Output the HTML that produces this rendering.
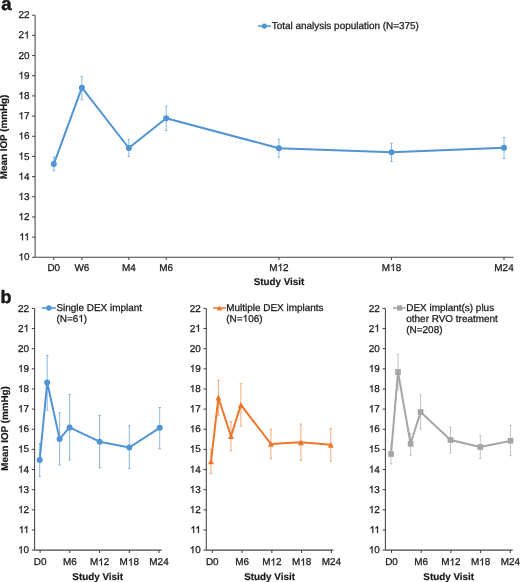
<!DOCTYPE html>
<html><head><meta charset="utf-8"><style>
html,body{margin:0;padding:0;background:#fff;}
body{width:520px;height:582px;overflow:hidden;}
svg{display:block;will-change:transform;}
text{font-family:"Liberation Sans",sans-serif;fill:#1a1a1a;text-rendering:geometricPrecision;stroke:#1a1a1a;stroke-width:0.26px;stroke-linejoin:round;}
text[font-weight=bold]{stroke-width:0.2px;}
text.pl{stroke-width:0.45px;}
.h{fill-opacity:0;stroke-opacity:0;}
path.one{fill:#1a1a1a;stroke:#1a1a1a;stroke-width:0.26px;stroke-linejoin:round;}
</style></head><body>
<svg width="520" height="582" viewBox="0 0 520 582">
<text class="pl" x="1.3" y="10.1" font-size="18.6" font-weight="bold">a</text>
<line x1="35.1" y1="15.2" x2="35.1" y2="257.3" stroke="#454545" stroke-width="1.05"/>
<line x1="35.1" y1="257.3" x2="513.5" y2="257.3" stroke="#454545" stroke-width="1.05"/>
<line x1="32.1" y1="15.20" x2="35.1" y2="15.20" stroke="#454545" stroke-width="1.05"/>
<text x="29.55" y="18.30" text-anchor="end" font-size="9.95">22</text>
<line x1="32.1" y1="35.38" x2="35.1" y2="35.38" stroke="#454545" stroke-width="1.05"/>
<text x="29.55" y="38.48" text-anchor="end" font-size="9.95">2<tspan class="h">1</tspan></text>
<line x1="32.1" y1="55.55" x2="35.1" y2="55.55" stroke="#454545" stroke-width="1.05"/>
<text x="29.55" y="58.65" text-anchor="end" font-size="9.95">20</text>
<line x1="32.1" y1="75.73" x2="35.1" y2="75.73" stroke="#454545" stroke-width="1.05"/>
<text x="29.55" y="78.83" text-anchor="end" font-size="9.95"><tspan class="h">1</tspan>9</text>
<line x1="32.1" y1="95.90" x2="35.1" y2="95.90" stroke="#454545" stroke-width="1.05"/>
<text x="29.55" y="99.00" text-anchor="end" font-size="9.95"><tspan class="h">1</tspan>8</text>
<line x1="32.1" y1="116.08" x2="35.1" y2="116.08" stroke="#454545" stroke-width="1.05"/>
<text x="29.55" y="119.17" text-anchor="end" font-size="9.95"><tspan class="h">1</tspan>7</text>
<line x1="32.1" y1="136.25" x2="35.1" y2="136.25" stroke="#454545" stroke-width="1.05"/>
<text x="29.55" y="139.35" text-anchor="end" font-size="9.95"><tspan class="h">1</tspan>6</text>
<line x1="32.1" y1="156.42" x2="35.1" y2="156.42" stroke="#454545" stroke-width="1.05"/>
<text x="29.55" y="159.52" text-anchor="end" font-size="9.95"><tspan class="h">1</tspan>5</text>
<line x1="32.1" y1="176.60" x2="35.1" y2="176.60" stroke="#454545" stroke-width="1.05"/>
<text x="29.55" y="179.70" text-anchor="end" font-size="9.95"><tspan class="h">1</tspan>4</text>
<line x1="32.1" y1="196.78" x2="35.1" y2="196.78" stroke="#454545" stroke-width="1.05"/>
<text x="29.55" y="199.88" text-anchor="end" font-size="9.95"><tspan class="h">1</tspan>3</text>
<line x1="32.1" y1="216.95" x2="35.1" y2="216.95" stroke="#454545" stroke-width="1.05"/>
<text x="29.55" y="220.05" text-anchor="end" font-size="9.95"><tspan class="h">1</tspan>2</text>
<line x1="32.1" y1="237.12" x2="35.1" y2="237.12" stroke="#454545" stroke-width="1.05"/>
<text x="29.55" y="240.22" text-anchor="end" font-size="9.95"><tspan class="h">1</tspan><tspan class="h">1</tspan></text>
<line x1="32.1" y1="257.30" x2="35.1" y2="257.30" stroke="#454545" stroke-width="1.05"/>
<text x="29.55" y="260.40" text-anchor="end" font-size="9.95"><tspan class="h">1</tspan>0</text>
<line x1="53.8" y1="257.3" x2="53.8" y2="260.1" stroke="#454545" stroke-width="1.05"/>
<text x="53.8" y="270.9" text-anchor="middle" font-size="9.95">D0</text>
<line x1="81.9" y1="257.3" x2="81.9" y2="260.1" stroke="#454545" stroke-width="1.05"/>
<text x="81.9" y="270.9" text-anchor="middle" font-size="9.95">W6</text>
<line x1="128.8" y1="257.3" x2="128.8" y2="260.1" stroke="#454545" stroke-width="1.05"/>
<text x="128.8" y="270.9" text-anchor="middle" font-size="9.95">M4</text>
<line x1="166.2" y1="257.3" x2="166.2" y2="260.1" stroke="#454545" stroke-width="1.05"/>
<text x="166.2" y="270.9" text-anchor="middle" font-size="9.95">M6</text>
<line x1="278.9" y1="257.3" x2="278.9" y2="260.1" stroke="#454545" stroke-width="1.05"/>
<text x="278.9" y="270.9" text-anchor="middle" font-size="9.95">M<tspan class="h">1</tspan>2</text>
<line x1="391.5" y1="257.3" x2="391.5" y2="260.1" stroke="#454545" stroke-width="1.05"/>
<text x="391.5" y="270.9" text-anchor="middle" font-size="9.95">M<tspan class="h">1</tspan>8</text>
<line x1="504.0" y1="257.3" x2="504.0" y2="260.1" stroke="#454545" stroke-width="1.05"/>
<text x="504.0" y="270.9" text-anchor="middle" font-size="9.95">M24</text>
<text x="279" y="284.6" text-anchor="middle" font-size="9.85" font-weight="bold">Study Visit</text>
<text transform="translate(7.4,136.9) rotate(-90)" text-anchor="middle" font-size="9.85" font-weight="bold">Mean IOP (mmHg)</text>
<line x1="53.8" y1="157.1" x2="53.8" y2="170.8" stroke="#7fb0de" stroke-width="0.9"/>
<line x1="52.5" y1="157.1" x2="55.099999999999994" y2="157.1" stroke="#7fb0de" stroke-width="0.9"/>
<line x1="52.5" y1="170.8" x2="55.099999999999994" y2="170.8" stroke="#7fb0de" stroke-width="0.9"/>
<line x1="81.9" y1="76.4" x2="81.9" y2="99.6" stroke="#7fb0de" stroke-width="0.9"/>
<line x1="80.60000000000001" y1="76.4" x2="83.2" y2="76.4" stroke="#7fb0de" stroke-width="0.9"/>
<line x1="80.60000000000001" y1="99.6" x2="83.2" y2="99.6" stroke="#7fb0de" stroke-width="0.9"/>
<line x1="128.8" y1="139.6" x2="128.8" y2="156.5" stroke="#7fb0de" stroke-width="0.9"/>
<line x1="127.50000000000001" y1="139.6" x2="130.10000000000002" y2="139.6" stroke="#7fb0de" stroke-width="0.9"/>
<line x1="127.50000000000001" y1="156.5" x2="130.10000000000002" y2="156.5" stroke="#7fb0de" stroke-width="0.9"/>
<line x1="166.2" y1="106.2" x2="166.2" y2="130.6" stroke="#7fb0de" stroke-width="0.9"/>
<line x1="164.89999999999998" y1="106.2" x2="167.5" y2="106.2" stroke="#7fb0de" stroke-width="0.9"/>
<line x1="164.89999999999998" y1="130.6" x2="167.5" y2="130.6" stroke="#7fb0de" stroke-width="0.9"/>
<line x1="278.9" y1="139.4" x2="278.9" y2="157.3" stroke="#7fb0de" stroke-width="0.9"/>
<line x1="277.59999999999997" y1="139.4" x2="280.2" y2="139.4" stroke="#7fb0de" stroke-width="0.9"/>
<line x1="277.59999999999997" y1="157.3" x2="280.2" y2="157.3" stroke="#7fb0de" stroke-width="0.9"/>
<line x1="391.5" y1="143.4" x2="391.5" y2="161.5" stroke="#7fb0de" stroke-width="0.9"/>
<line x1="390.2" y1="143.4" x2="392.8" y2="143.4" stroke="#7fb0de" stroke-width="0.9"/>
<line x1="390.2" y1="161.5" x2="392.8" y2="161.5" stroke="#7fb0de" stroke-width="0.9"/>
<line x1="504.0" y1="137.5" x2="504.0" y2="158.4" stroke="#7fb0de" stroke-width="0.9"/>
<line x1="502.7" y1="137.5" x2="505.3" y2="137.5" stroke="#7fb0de" stroke-width="0.9"/>
<line x1="502.7" y1="158.4" x2="505.3" y2="158.4" stroke="#7fb0de" stroke-width="0.9"/>
<path d="M53.8,164.1 L81.9,87.7 L128.8,148.0 L166.2,118.2 L278.9,148.2 L391.5,152.3 L504.0,147.8" fill="none" stroke="#5094d6" stroke-width="2.0" stroke-linejoin="round"/>
<circle cx="53.8" cy="164.1" r="3.0" fill="#5094d6"/>
<circle cx="81.9" cy="87.7" r="3.0" fill="#5094d6"/>
<circle cx="128.8" cy="148.0" r="3.0" fill="#5094d6"/>
<circle cx="166.2" cy="118.2" r="3.0" fill="#5094d6"/>
<circle cx="278.9" cy="148.2" r="3.0" fill="#5094d6"/>
<circle cx="391.5" cy="152.3" r="3.0" fill="#5094d6"/>
<circle cx="504.0" cy="147.8" r="3.0" fill="#5094d6"/>
<line x1="257.9" y1="26.1" x2="271" y2="26.1" stroke="#5094d6" stroke-width="1.5"/>
<circle cx="264.3" cy="26.1" r="2.6" fill="#5094d6"/>
<text x="271.7" y="29.3" font-size="9.95">Total analysis population (N=375)</text>
<text class="pl" x="0.4" y="302.9" font-size="18" font-weight="bold">b</text>
<line x1="34.6" y1="308.4" x2="34.6" y2="550.1" stroke="#454545" stroke-width="1.05"/>
<line x1="34.6" y1="550.1" x2="161.7" y2="550.1" stroke="#454545" stroke-width="1.05"/>
<line x1="31.8" y1="308.40" x2="34.6" y2="308.40" stroke="#454545" stroke-width="1.05"/>
<text x="29.05" y="311.50" text-anchor="end" font-size="9.95">22</text>
<line x1="31.8" y1="328.54" x2="34.6" y2="328.54" stroke="#454545" stroke-width="1.05"/>
<text x="29.05" y="331.64" text-anchor="end" font-size="9.95">2<tspan class="h">1</tspan></text>
<line x1="31.8" y1="348.68" x2="34.6" y2="348.68" stroke="#454545" stroke-width="1.05"/>
<text x="29.05" y="351.78" text-anchor="end" font-size="9.95">20</text>
<line x1="31.8" y1="368.82" x2="34.6" y2="368.82" stroke="#454545" stroke-width="1.05"/>
<text x="29.05" y="371.93" text-anchor="end" font-size="9.95"><tspan class="h">1</tspan>9</text>
<line x1="31.8" y1="388.97" x2="34.6" y2="388.97" stroke="#454545" stroke-width="1.05"/>
<text x="29.05" y="392.07" text-anchor="end" font-size="9.95"><tspan class="h">1</tspan>8</text>
<line x1="31.8" y1="409.11" x2="34.6" y2="409.11" stroke="#454545" stroke-width="1.05"/>
<text x="29.05" y="412.21" text-anchor="end" font-size="9.95"><tspan class="h">1</tspan>7</text>
<line x1="31.8" y1="429.25" x2="34.6" y2="429.25" stroke="#454545" stroke-width="1.05"/>
<text x="29.05" y="432.35" text-anchor="end" font-size="9.95"><tspan class="h">1</tspan>6</text>
<line x1="31.8" y1="449.39" x2="34.6" y2="449.39" stroke="#454545" stroke-width="1.05"/>
<text x="29.05" y="452.49" text-anchor="end" font-size="9.95"><tspan class="h">1</tspan>5</text>
<line x1="31.8" y1="469.53" x2="34.6" y2="469.53" stroke="#454545" stroke-width="1.05"/>
<text x="29.05" y="472.63" text-anchor="end" font-size="9.95"><tspan class="h">1</tspan>4</text>
<line x1="31.8" y1="489.68" x2="34.6" y2="489.68" stroke="#454545" stroke-width="1.05"/>
<text x="29.05" y="492.78" text-anchor="end" font-size="9.95"><tspan class="h">1</tspan>3</text>
<line x1="31.8" y1="509.82" x2="34.6" y2="509.82" stroke="#454545" stroke-width="1.05"/>
<text x="29.05" y="512.92" text-anchor="end" font-size="9.95"><tspan class="h">1</tspan>2</text>
<line x1="31.8" y1="529.96" x2="34.6" y2="529.96" stroke="#454545" stroke-width="1.05"/>
<text x="29.05" y="533.06" text-anchor="end" font-size="9.95"><tspan class="h">1</tspan><tspan class="h">1</tspan></text>
<line x1="31.8" y1="550.10" x2="34.6" y2="550.10" stroke="#454545" stroke-width="1.05"/>
<text x="29.05" y="553.20" text-anchor="end" font-size="9.95"><tspan class="h">1</tspan>0</text>
<line x1="40.1" y1="550.1" x2="40.1" y2="552.9" stroke="#454545" stroke-width="1.05"/>
<text x="40.1" y="565.4" text-anchor="middle" font-size="9.95">D0</text>
<line x1="69.83" y1="550.1" x2="69.83" y2="552.9" stroke="#454545" stroke-width="1.05"/>
<text x="69.83" y="565.4" text-anchor="middle" font-size="9.95">M6</text>
<line x1="99.55" y1="550.1" x2="99.55" y2="552.9" stroke="#454545" stroke-width="1.05"/>
<text x="99.55" y="565.4" text-anchor="middle" font-size="9.95">M<tspan class="h">1</tspan>2</text>
<line x1="129.28" y1="550.1" x2="129.28" y2="552.9" stroke="#454545" stroke-width="1.05"/>
<text x="129.28" y="565.4" text-anchor="middle" font-size="9.95">M<tspan class="h">1</tspan>8</text>
<line x1="159.0" y1="550.1" x2="159.0" y2="552.9" stroke="#454545" stroke-width="1.05"/>
<text x="159.0" y="565.4" text-anchor="middle" font-size="9.95">M24</text>
<text x="97.7" y="579.8" text-anchor="middle" font-size="9.85" font-weight="bold">Study Visit</text>
<line x1="39.7" y1="443.5" x2="39.7" y2="476.6" stroke="#7fb0de" stroke-width="0.9"/>
<line x1="38.400000000000006" y1="443.5" x2="41.0" y2="443.5" stroke="#7fb0de" stroke-width="0.9"/>
<line x1="38.400000000000006" y1="476.6" x2="41.0" y2="476.6" stroke="#7fb0de" stroke-width="0.9"/>
<line x1="47.2" y1="355.5" x2="47.2" y2="410.1" stroke="#7fb0de" stroke-width="0.9"/>
<line x1="45.900000000000006" y1="355.5" x2="48.5" y2="355.5" stroke="#7fb0de" stroke-width="0.9"/>
<line x1="45.900000000000006" y1="410.1" x2="48.5" y2="410.1" stroke="#7fb0de" stroke-width="0.9"/>
<line x1="59.6" y1="412.6" x2="59.6" y2="464.8" stroke="#7fb0de" stroke-width="0.9"/>
<line x1="58.300000000000004" y1="412.6" x2="60.9" y2="412.6" stroke="#7fb0de" stroke-width="0.9"/>
<line x1="58.300000000000004" y1="464.8" x2="60.9" y2="464.8" stroke="#7fb0de" stroke-width="0.9"/>
<line x1="69.6" y1="394.5" x2="69.6" y2="460.0" stroke="#7fb0de" stroke-width="0.9"/>
<line x1="68.3" y1="394.5" x2="70.89999999999999" y2="394.5" stroke="#7fb0de" stroke-width="0.9"/>
<line x1="68.3" y1="460.0" x2="70.89999999999999" y2="460.0" stroke="#7fb0de" stroke-width="0.9"/>
<line x1="99.6" y1="415.5" x2="99.6" y2="467.8" stroke="#7fb0de" stroke-width="0.9"/>
<line x1="98.3" y1="415.5" x2="100.89999999999999" y2="415.5" stroke="#7fb0de" stroke-width="0.9"/>
<line x1="98.3" y1="467.8" x2="100.89999999999999" y2="467.8" stroke="#7fb0de" stroke-width="0.9"/>
<line x1="129.3" y1="425.9" x2="129.3" y2="468.4" stroke="#7fb0de" stroke-width="0.9"/>
<line x1="128.0" y1="425.9" x2="130.60000000000002" y2="425.9" stroke="#7fb0de" stroke-width="0.9"/>
<line x1="128.0" y1="468.4" x2="130.60000000000002" y2="468.4" stroke="#7fb0de" stroke-width="0.9"/>
<line x1="159.7" y1="407.5" x2="159.7" y2="448.8" stroke="#7fb0de" stroke-width="0.9"/>
<line x1="158.39999999999998" y1="407.5" x2="161.0" y2="407.5" stroke="#7fb0de" stroke-width="0.9"/>
<line x1="158.39999999999998" y1="448.8" x2="161.0" y2="448.8" stroke="#7fb0de" stroke-width="0.9"/>
<path d="M39.7,459.9 L47.2,382.5 L59.6,438.9 L69.6,427.4 L99.6,441.7 L129.3,447.5 L159.7,427.8" fill="none" stroke="#5094d6" stroke-width="2.0" stroke-linejoin="round"/>
<circle cx="39.7" cy="459.9" r="3.0" fill="#5094d6"/>
<circle cx="47.2" cy="382.5" r="3.0" fill="#5094d6"/>
<circle cx="59.6" cy="438.9" r="3.0" fill="#5094d6"/>
<circle cx="69.6" cy="427.4" r="3.0" fill="#5094d6"/>
<circle cx="99.6" cy="441.7" r="3.0" fill="#5094d6"/>
<circle cx="129.3" cy="447.5" r="3.0" fill="#5094d6"/>
<circle cx="159.7" cy="427.8" r="3.0" fill="#5094d6"/>
<line x1="41.8" y1="308.0" x2="56.0" y2="308.0" stroke="#5094d6" stroke-width="1.5"/>
<circle cx="48.9" cy="308.0" r="2.7" fill="#5094d6"/>
<text x="56.4" y="311.10" font-size="9.95">Single DEX implant</text>
<text x="56.4" y="321.85" font-size="9.95">(N=6<tspan class="h">1</tspan>)</text>
<line x1="206.3" y1="308.4" x2="206.3" y2="550.1" stroke="#454545" stroke-width="1.05"/>
<line x1="206.3" y1="550.1" x2="333.4" y2="550.1" stroke="#454545" stroke-width="1.05"/>
<line x1="203.5" y1="308.40" x2="206.3" y2="308.40" stroke="#454545" stroke-width="1.05"/>
<text x="200.75" y="311.50" text-anchor="end" font-size="9.95">22</text>
<line x1="203.5" y1="328.54" x2="206.3" y2="328.54" stroke="#454545" stroke-width="1.05"/>
<text x="200.75" y="331.64" text-anchor="end" font-size="9.95">2<tspan class="h">1</tspan></text>
<line x1="203.5" y1="348.68" x2="206.3" y2="348.68" stroke="#454545" stroke-width="1.05"/>
<text x="200.75" y="351.78" text-anchor="end" font-size="9.95">20</text>
<line x1="203.5" y1="368.82" x2="206.3" y2="368.82" stroke="#454545" stroke-width="1.05"/>
<text x="200.75" y="371.93" text-anchor="end" font-size="9.95"><tspan class="h">1</tspan>9</text>
<line x1="203.5" y1="388.97" x2="206.3" y2="388.97" stroke="#454545" stroke-width="1.05"/>
<text x="200.75" y="392.07" text-anchor="end" font-size="9.95"><tspan class="h">1</tspan>8</text>
<line x1="203.5" y1="409.11" x2="206.3" y2="409.11" stroke="#454545" stroke-width="1.05"/>
<text x="200.75" y="412.21" text-anchor="end" font-size="9.95"><tspan class="h">1</tspan>7</text>
<line x1="203.5" y1="429.25" x2="206.3" y2="429.25" stroke="#454545" stroke-width="1.05"/>
<text x="200.75" y="432.35" text-anchor="end" font-size="9.95"><tspan class="h">1</tspan>6</text>
<line x1="203.5" y1="449.39" x2="206.3" y2="449.39" stroke="#454545" stroke-width="1.05"/>
<text x="200.75" y="452.49" text-anchor="end" font-size="9.95"><tspan class="h">1</tspan>5</text>
<line x1="203.5" y1="469.53" x2="206.3" y2="469.53" stroke="#454545" stroke-width="1.05"/>
<text x="200.75" y="472.63" text-anchor="end" font-size="9.95"><tspan class="h">1</tspan>4</text>
<line x1="203.5" y1="489.68" x2="206.3" y2="489.68" stroke="#454545" stroke-width="1.05"/>
<text x="200.75" y="492.78" text-anchor="end" font-size="9.95"><tspan class="h">1</tspan>3</text>
<line x1="203.5" y1="509.82" x2="206.3" y2="509.82" stroke="#454545" stroke-width="1.05"/>
<text x="200.75" y="512.92" text-anchor="end" font-size="9.95"><tspan class="h">1</tspan>2</text>
<line x1="203.5" y1="529.96" x2="206.3" y2="529.96" stroke="#454545" stroke-width="1.05"/>
<text x="200.75" y="533.06" text-anchor="end" font-size="9.95"><tspan class="h">1</tspan><tspan class="h">1</tspan></text>
<line x1="203.5" y1="550.10" x2="206.3" y2="550.10" stroke="#454545" stroke-width="1.05"/>
<text x="200.75" y="553.20" text-anchor="end" font-size="9.95"><tspan class="h">1</tspan>0</text>
<line x1="212.3" y1="550.1" x2="212.3" y2="552.9" stroke="#454545" stroke-width="1.05"/>
<text x="212.3" y="565.4" text-anchor="middle" font-size="9.95">D0</text>
<line x1="242.07" y1="550.1" x2="242.07" y2="552.9" stroke="#454545" stroke-width="1.05"/>
<text x="242.07" y="565.4" text-anchor="middle" font-size="9.95">M6</text>
<line x1="271.85" y1="550.1" x2="271.85" y2="552.9" stroke="#454545" stroke-width="1.05"/>
<text x="271.85" y="565.4" text-anchor="middle" font-size="9.95">M<tspan class="h">1</tspan>2</text>
<line x1="301.62" y1="550.1" x2="301.62" y2="552.9" stroke="#454545" stroke-width="1.05"/>
<text x="301.62" y="565.4" text-anchor="middle" font-size="9.95">M<tspan class="h">1</tspan>8</text>
<line x1="331.4" y1="550.1" x2="331.4" y2="552.9" stroke="#454545" stroke-width="1.05"/>
<text x="331.4" y="565.4" text-anchor="middle" font-size="9.95">M24</text>
<text x="269.6" y="579.8" text-anchor="middle" font-size="9.85" font-weight="bold">Study Visit</text>
<line x1="211.0" y1="449.3" x2="211.0" y2="473.6" stroke="#f2a06a" stroke-width="0.9"/>
<line x1="209.7" y1="449.3" x2="212.3" y2="449.3" stroke="#f2a06a" stroke-width="0.9"/>
<line x1="209.7" y1="473.6" x2="212.3" y2="473.6" stroke="#f2a06a" stroke-width="0.9"/>
<line x1="218.4" y1="380.3" x2="218.4" y2="415.1" stroke="#f2a06a" stroke-width="0.9"/>
<line x1="217.1" y1="380.3" x2="219.70000000000002" y2="380.3" stroke="#f2a06a" stroke-width="0.9"/>
<line x1="217.1" y1="415.1" x2="219.70000000000002" y2="415.1" stroke="#f2a06a" stroke-width="0.9"/>
<line x1="231.0" y1="421.6" x2="231.0" y2="450.8" stroke="#f2a06a" stroke-width="0.9"/>
<line x1="229.7" y1="421.6" x2="232.3" y2="421.6" stroke="#f2a06a" stroke-width="0.9"/>
<line x1="229.7" y1="450.8" x2="232.3" y2="450.8" stroke="#f2a06a" stroke-width="0.9"/>
<line x1="240.9" y1="383.7" x2="240.9" y2="426.0" stroke="#f2a06a" stroke-width="0.9"/>
<line x1="239.6" y1="383.7" x2="242.20000000000002" y2="383.7" stroke="#f2a06a" stroke-width="0.9"/>
<line x1="239.6" y1="426.0" x2="242.20000000000002" y2="426.0" stroke="#f2a06a" stroke-width="0.9"/>
<line x1="270.9" y1="429.5" x2="270.9" y2="458.5" stroke="#f2a06a" stroke-width="0.9"/>
<line x1="269.59999999999997" y1="429.5" x2="272.2" y2="429.5" stroke="#f2a06a" stroke-width="0.9"/>
<line x1="269.59999999999997" y1="458.5" x2="272.2" y2="458.5" stroke="#f2a06a" stroke-width="0.9"/>
<line x1="300.9" y1="424.0" x2="300.9" y2="460.3" stroke="#f2a06a" stroke-width="0.9"/>
<line x1="299.59999999999997" y1="424.0" x2="302.2" y2="424.0" stroke="#f2a06a" stroke-width="0.9"/>
<line x1="299.59999999999997" y1="460.3" x2="302.2" y2="460.3" stroke="#f2a06a" stroke-width="0.9"/>
<line x1="330.8" y1="428.5" x2="330.8" y2="461.1" stroke="#f2a06a" stroke-width="0.9"/>
<line x1="329.5" y1="428.5" x2="332.1" y2="428.5" stroke="#f2a06a" stroke-width="0.9"/>
<line x1="329.5" y1="461.1" x2="332.1" y2="461.1" stroke="#f2a06a" stroke-width="0.9"/>
<path d="M211.0,461.5 L218.4,397.7 L231.0,436.2 L240.9,404.9 L270.9,444.0 L300.9,442.3 L330.8,444.8" fill="none" stroke="#EC7628" stroke-width="2.0" stroke-linejoin="round"/>
<path d="M211.0,458.65 L214.0,464.35 L208.0,464.35 Z" fill="#EC7628"/>
<path d="M218.4,394.84999999999997 L221.4,400.55 L215.4,400.55 Z" fill="#EC7628"/>
<path d="M231.0,433.34999999999997 L234.0,439.05 L228.0,439.05 Z" fill="#EC7628"/>
<path d="M240.9,402.04999999999995 L243.9,407.75 L237.9,407.75 Z" fill="#EC7628"/>
<path d="M270.9,441.15 L273.9,446.85 L267.9,446.85 Z" fill="#EC7628"/>
<path d="M300.9,439.45 L303.9,445.15000000000003 L297.9,445.15000000000003 Z" fill="#EC7628"/>
<path d="M330.8,441.95 L333.8,447.65000000000003 L327.8,447.65000000000003 Z" fill="#EC7628"/>
<line x1="213.2" y1="308.0" x2="225.9" y2="308.0" stroke="#EC7628" stroke-width="1.5"/>
<path d="M219.6,305.435 L222.29999999999998,310.565 L216.9,310.565 Z" fill="#EC7628"/>
<text x="226.3" y="311.10" font-size="9.95">Multiple DEX implants</text>
<text x="226.3" y="321.85" font-size="9.95">(N=<tspan class="h">1</tspan>06)</text>
<line x1="385.4" y1="308.4" x2="385.4" y2="550.1" stroke="#454545" stroke-width="1.05"/>
<line x1="385.4" y1="550.1" x2="512.7" y2="550.1" stroke="#454545" stroke-width="1.05"/>
<line x1="382.59999999999997" y1="308.40" x2="385.4" y2="308.40" stroke="#454545" stroke-width="1.05"/>
<text x="379.85" y="311.50" text-anchor="end" font-size="9.95">22</text>
<line x1="382.59999999999997" y1="328.54" x2="385.4" y2="328.54" stroke="#454545" stroke-width="1.05"/>
<text x="379.85" y="331.64" text-anchor="end" font-size="9.95">2<tspan class="h">1</tspan></text>
<line x1="382.59999999999997" y1="348.68" x2="385.4" y2="348.68" stroke="#454545" stroke-width="1.05"/>
<text x="379.85" y="351.78" text-anchor="end" font-size="9.95">20</text>
<line x1="382.59999999999997" y1="368.82" x2="385.4" y2="368.82" stroke="#454545" stroke-width="1.05"/>
<text x="379.85" y="371.93" text-anchor="end" font-size="9.95"><tspan class="h">1</tspan>9</text>
<line x1="382.59999999999997" y1="388.97" x2="385.4" y2="388.97" stroke="#454545" stroke-width="1.05"/>
<text x="379.85" y="392.07" text-anchor="end" font-size="9.95"><tspan class="h">1</tspan>8</text>
<line x1="382.59999999999997" y1="409.11" x2="385.4" y2="409.11" stroke="#454545" stroke-width="1.05"/>
<text x="379.85" y="412.21" text-anchor="end" font-size="9.95"><tspan class="h">1</tspan>7</text>
<line x1="382.59999999999997" y1="429.25" x2="385.4" y2="429.25" stroke="#454545" stroke-width="1.05"/>
<text x="379.85" y="432.35" text-anchor="end" font-size="9.95"><tspan class="h">1</tspan>6</text>
<line x1="382.59999999999997" y1="449.39" x2="385.4" y2="449.39" stroke="#454545" stroke-width="1.05"/>
<text x="379.85" y="452.49" text-anchor="end" font-size="9.95"><tspan class="h">1</tspan>5</text>
<line x1="382.59999999999997" y1="469.53" x2="385.4" y2="469.53" stroke="#454545" stroke-width="1.05"/>
<text x="379.85" y="472.63" text-anchor="end" font-size="9.95"><tspan class="h">1</tspan>4</text>
<line x1="382.59999999999997" y1="489.68" x2="385.4" y2="489.68" stroke="#454545" stroke-width="1.05"/>
<text x="379.85" y="492.78" text-anchor="end" font-size="9.95"><tspan class="h">1</tspan>3</text>
<line x1="382.59999999999997" y1="509.82" x2="385.4" y2="509.82" stroke="#454545" stroke-width="1.05"/>
<text x="379.85" y="512.92" text-anchor="end" font-size="9.95"><tspan class="h">1</tspan>2</text>
<line x1="382.59999999999997" y1="529.96" x2="385.4" y2="529.96" stroke="#454545" stroke-width="1.05"/>
<text x="379.85" y="533.06" text-anchor="end" font-size="9.95"><tspan class="h">1</tspan><tspan class="h">1</tspan></text>
<line x1="382.59999999999997" y1="550.10" x2="385.4" y2="550.10" stroke="#454545" stroke-width="1.05"/>
<text x="379.85" y="553.20" text-anchor="end" font-size="9.95"><tspan class="h">1</tspan>0</text>
<line x1="391.5" y1="550.1" x2="391.5" y2="552.9" stroke="#454545" stroke-width="1.05"/>
<text x="391.5" y="565.4" text-anchor="middle" font-size="9.95">D0</text>
<line x1="421.2" y1="550.1" x2="421.2" y2="552.9" stroke="#454545" stroke-width="1.05"/>
<text x="421.2" y="565.4" text-anchor="middle" font-size="9.95">M6</text>
<line x1="450.9" y1="550.1" x2="450.9" y2="552.9" stroke="#454545" stroke-width="1.05"/>
<text x="450.9" y="565.4" text-anchor="middle" font-size="9.95">M<tspan class="h">1</tspan>2</text>
<line x1="480.6" y1="550.1" x2="480.6" y2="552.9" stroke="#454545" stroke-width="1.05"/>
<text x="480.6" y="565.4" text-anchor="middle" font-size="9.95">M<tspan class="h">1</tspan>8</text>
<line x1="510.3" y1="550.1" x2="510.3" y2="552.9" stroke="#454545" stroke-width="1.05"/>
<text x="510.3" y="565.4" text-anchor="middle" font-size="9.95">M24</text>
<text x="448.7" y="579.8" text-anchor="middle" font-size="9.85" font-weight="bold">Study Visit</text>
<line x1="391.0" y1="444.3" x2="391.0" y2="463.9" stroke="#bdbdbd" stroke-width="0.9"/>
<line x1="389.7" y1="444.3" x2="392.3" y2="444.3" stroke="#bdbdbd" stroke-width="0.9"/>
<line x1="389.7" y1="463.9" x2="392.3" y2="463.9" stroke="#bdbdbd" stroke-width="0.9"/>
<line x1="398.0" y1="354.5" x2="398.0" y2="389.8" stroke="#bdbdbd" stroke-width="0.9"/>
<line x1="396.7" y1="354.5" x2="399.3" y2="354.5" stroke="#bdbdbd" stroke-width="0.9"/>
<line x1="396.7" y1="389.8" x2="399.3" y2="389.8" stroke="#bdbdbd" stroke-width="0.9"/>
<line x1="410.6" y1="433.3" x2="410.6" y2="455.3" stroke="#bdbdbd" stroke-width="0.9"/>
<line x1="409.3" y1="433.3" x2="411.90000000000003" y2="433.3" stroke="#bdbdbd" stroke-width="0.9"/>
<line x1="409.3" y1="455.3" x2="411.90000000000003" y2="455.3" stroke="#bdbdbd" stroke-width="0.9"/>
<line x1="420.6" y1="394.8" x2="420.6" y2="429.2" stroke="#bdbdbd" stroke-width="0.9"/>
<line x1="419.3" y1="394.8" x2="421.90000000000003" y2="394.8" stroke="#bdbdbd" stroke-width="0.9"/>
<line x1="419.3" y1="429.2" x2="421.90000000000003" y2="429.2" stroke="#bdbdbd" stroke-width="0.9"/>
<line x1="450.5" y1="427.2" x2="450.5" y2="453.1" stroke="#bdbdbd" stroke-width="0.9"/>
<line x1="449.2" y1="427.2" x2="451.8" y2="427.2" stroke="#bdbdbd" stroke-width="0.9"/>
<line x1="449.2" y1="453.1" x2="451.8" y2="453.1" stroke="#bdbdbd" stroke-width="0.9"/>
<line x1="480.3" y1="435.4" x2="480.3" y2="458.5" stroke="#bdbdbd" stroke-width="0.9"/>
<line x1="479.0" y1="435.4" x2="481.6" y2="435.4" stroke="#bdbdbd" stroke-width="0.9"/>
<line x1="479.0" y1="458.5" x2="481.6" y2="458.5" stroke="#bdbdbd" stroke-width="0.9"/>
<line x1="510.5" y1="425.4" x2="510.5" y2="455.7" stroke="#bdbdbd" stroke-width="0.9"/>
<line x1="509.2" y1="425.4" x2="511.8" y2="425.4" stroke="#bdbdbd" stroke-width="0.9"/>
<line x1="509.2" y1="455.7" x2="511.8" y2="455.7" stroke="#bdbdbd" stroke-width="0.9"/>
<path d="M391.0,454.0 L398.0,372.0 L410.6,443.8 L420.6,412.0 L450.5,440.0 L480.3,447.0 L510.5,440.8" fill="none" stroke="#A5A5A5" stroke-width="2.0" stroke-linejoin="round"/>
<rect x="388.15" y="451.15" width="5.7" height="5.7" fill="#A5A5A5"/>
<rect x="395.15" y="369.15" width="5.7" height="5.7" fill="#A5A5A5"/>
<rect x="407.75" y="440.95" width="5.7" height="5.7" fill="#A5A5A5"/>
<rect x="417.75" y="409.15" width="5.7" height="5.7" fill="#A5A5A5"/>
<rect x="447.65" y="437.15" width="5.7" height="5.7" fill="#A5A5A5"/>
<rect x="477.45" y="444.15" width="5.7" height="5.7" fill="#A5A5A5"/>
<rect x="507.65" y="437.95" width="5.7" height="5.7" fill="#A5A5A5"/>
<line x1="392.9" y1="308.0" x2="405.9" y2="308.0" stroke="#A5A5A5" stroke-width="1.5"/>
<rect x="396.95000000000005" y="305.35" width="5.3" height="5.3" fill="#A5A5A5"/>
<text x="406.29999999999995" y="311.10" font-size="9.95">DEX implant(s) plus</text>
<text x="406.29999999999995" y="321.85" font-size="9.95">other RVO treatment</text>
<text x="406.29999999999995" y="332.60" font-size="9.95">(N=208)</text>
<text transform="translate(7.8,428.4) rotate(-90)" text-anchor="middle" font-size="9.85" font-weight="bold">Mean IOP (mmHg)</text>
<path class="one" d="M27.73,38.48 L26.85,38.48 L26.85,32.91 Q26.54,33.21 26.28,33.36 Q26.02,33.51 25.76,33.66 Q25.51,33.81 25.10,33.96 L25.10,33.12 Q25.84,32.77 26.11,32.53 Q26.38,32.28 26.66,32.04 Q26.93,31.79 27.16,31.33 L27.73,31.33 Z"/>
<path class="one" d="M22.19,78.83 L21.32,78.83 L21.32,73.26 Q21.00,73.56 20.75,73.71 Q20.49,73.86 20.23,74.01 Q19.97,74.16 19.57,74.31 L19.57,73.47 Q20.30,73.12 20.58,72.88 Q20.85,72.63 21.13,72.39 Q21.40,72.14 21.63,71.68 L22.19,71.68 Z"/>
<path class="one" d="M22.19,99.00 L21.32,99.00 L21.32,93.43 Q21.00,93.73 20.75,93.88 Q20.49,94.03 20.23,94.18 Q19.97,94.33 19.57,94.48 L19.57,93.64 Q20.30,93.29 20.58,93.05 Q20.85,92.80 21.13,92.56 Q21.40,92.31 21.63,91.85 L22.19,91.85 Z"/>
<path class="one" d="M22.19,119.17 L21.32,119.17 L21.32,113.60 Q21.00,113.90 20.75,114.05 Q20.49,114.20 20.23,114.35 Q19.97,114.50 19.57,114.65 L19.57,113.81 Q20.30,113.46 20.58,113.22 Q20.85,112.97 21.13,112.73 Q21.40,112.48 21.63,112.02 L22.19,112.02 Z"/>
<path class="one" d="M22.19,139.35 L21.32,139.35 L21.32,133.78 Q21.00,134.08 20.75,134.23 Q20.49,134.38 20.23,134.53 Q19.97,134.68 19.57,134.83 L19.57,133.99 Q20.30,133.64 20.58,133.40 Q20.85,133.15 21.13,132.91 Q21.40,132.66 21.63,132.20 L22.19,132.20 Z"/>
<path class="one" d="M22.19,159.52 L21.32,159.52 L21.32,153.95 Q21.00,154.25 20.75,154.40 Q20.49,154.55 20.23,154.70 Q19.97,154.85 19.57,155.00 L19.57,154.16 Q20.30,153.81 20.58,153.57 Q20.85,153.32 21.13,153.08 Q21.40,152.83 21.63,152.37 L22.19,152.37 Z"/>
<path class="one" d="M22.19,179.70 L21.32,179.70 L21.32,174.13 Q21.00,174.43 20.75,174.58 Q20.49,174.73 20.23,174.88 Q19.97,175.03 19.57,175.18 L19.57,174.34 Q20.30,173.99 20.58,173.75 Q20.85,173.50 21.13,173.26 Q21.40,173.01 21.63,172.55 L22.19,172.55 Z"/>
<path class="one" d="M22.19,199.88 L21.32,199.88 L21.32,194.31 Q21.00,194.61 20.75,194.76 Q20.49,194.91 20.23,195.06 Q19.97,195.21 19.57,195.36 L19.57,194.52 Q20.30,194.17 20.58,193.93 Q20.85,193.68 21.13,193.44 Q21.40,193.19 21.63,192.73 L22.19,192.73 Z"/>
<path class="one" d="M22.19,220.05 L21.32,220.05 L21.32,214.48 Q21.00,214.78 20.75,214.93 Q20.49,215.08 20.23,215.23 Q19.97,215.38 19.57,215.53 L19.57,214.69 Q20.30,214.34 20.58,214.10 Q20.85,213.85 21.13,213.61 Q21.40,213.36 21.63,212.90 L22.19,212.90 Z"/>
<path class="one" d="M22.93,240.22 L22.05,240.22 L22.05,234.65 Q21.74,234.95 21.48,235.10 Q21.22,235.25 20.97,235.40 Q20.71,235.55 20.31,235.70 L20.31,234.86 Q21.04,234.51 21.31,234.27 Q21.59,234.02 21.86,233.78 Q22.14,233.53 22.37,233.07 L22.93,233.07 Z"/>
<path class="one" d="M27.73,240.22 L26.85,240.22 L26.85,234.65 Q26.54,234.95 26.28,235.10 Q26.02,235.25 25.76,235.40 Q25.51,235.55 25.10,235.70 L25.10,234.86 Q25.84,234.51 26.11,234.27 Q26.38,234.02 26.66,233.78 Q26.93,233.53 27.16,233.07 L27.73,233.07 Z"/>
<path class="one" d="M22.19,260.40 L21.32,260.40 L21.32,254.83 Q21.00,255.13 20.75,255.28 Q20.49,255.43 20.23,255.58 Q19.97,255.73 19.57,255.88 L19.57,255.04 Q20.30,254.69 20.58,254.45 Q20.85,254.20 21.13,253.96 Q21.40,253.71 21.63,253.25 L22.19,253.25 Z"/>
<path class="one" d="M281.22,270.90 L280.34,270.90 L280.34,265.33 Q280.03,265.63 279.77,265.78 Q279.51,265.93 279.25,266.08 Q279.00,266.23 278.59,266.38 L278.59,265.54 Q279.33,265.19 279.60,264.95 Q279.88,264.70 280.15,264.46 Q280.42,264.21 280.65,263.75 L281.22,263.75 Z"/>
<path class="one" d="M393.82,270.90 L392.94,270.90 L392.94,265.33 Q392.63,265.63 392.37,265.78 Q392.11,265.93 391.85,266.08 Q391.60,266.23 391.19,266.38 L391.19,265.54 Q391.93,265.19 392.20,264.95 Q392.48,264.70 392.75,264.46 Q393.02,264.21 393.25,263.75 L393.82,263.75 Z"/>
<path class="one" d="M27.23,331.64 L26.35,331.64 L26.35,326.07 Q26.04,326.37 25.78,326.52 Q25.52,326.67 25.26,326.82 Q25.01,326.97 24.60,327.12 L24.60,326.28 Q25.34,325.93 25.61,325.69 Q25.88,325.44 26.16,325.20 Q26.43,324.95 26.66,324.49 L27.23,324.49 Z"/>
<path class="one" d="M21.69,371.93 L20.82,371.93 L20.82,366.36 Q20.50,366.66 20.25,366.81 Q19.99,366.96 19.73,367.11 Q19.47,367.26 19.07,367.41 L19.07,366.57 Q19.80,366.22 20.08,365.98 Q20.35,365.73 20.63,365.49 Q20.90,365.24 21.13,364.78 L21.69,364.78 Z"/>
<path class="one" d="M21.69,392.07 L20.82,392.07 L20.82,386.50 Q20.50,386.80 20.25,386.95 Q19.99,387.10 19.73,387.25 Q19.47,387.40 19.07,387.55 L19.07,386.71 Q19.80,386.36 20.08,386.12 Q20.35,385.87 20.63,385.63 Q20.90,385.38 21.13,384.92 L21.69,384.92 Z"/>
<path class="one" d="M21.69,412.21 L20.82,412.21 L20.82,406.64 Q20.50,406.94 20.25,407.09 Q19.99,407.24 19.73,407.39 Q19.47,407.54 19.07,407.69 L19.07,406.85 Q19.80,406.50 20.08,406.26 Q20.35,406.01 20.63,405.77 Q20.90,405.52 21.13,405.06 L21.69,405.06 Z"/>
<path class="one" d="M21.69,432.35 L20.82,432.35 L20.82,426.78 Q20.50,427.08 20.25,427.23 Q19.99,427.38 19.73,427.53 Q19.47,427.68 19.07,427.83 L19.07,426.99 Q19.80,426.64 20.08,426.40 Q20.35,426.15 20.63,425.91 Q20.90,425.66 21.13,425.20 L21.69,425.20 Z"/>
<path class="one" d="M21.69,452.49 L20.82,452.49 L20.82,446.92 Q20.50,447.22 20.25,447.37 Q19.99,447.52 19.73,447.67 Q19.47,447.82 19.07,447.97 L19.07,447.13 Q19.80,446.78 20.08,446.54 Q20.35,446.29 20.63,446.05 Q20.90,445.80 21.13,445.34 L21.69,445.34 Z"/>
<path class="one" d="M21.69,472.63 L20.82,472.63 L20.82,467.06 Q20.50,467.36 20.25,467.51 Q19.99,467.66 19.73,467.81 Q19.47,467.96 19.07,468.11 L19.07,467.27 Q19.80,466.92 20.08,466.68 Q20.35,466.43 20.63,466.19 Q20.90,465.94 21.13,465.48 L21.69,465.48 Z"/>
<path class="one" d="M21.69,492.78 L20.82,492.78 L20.82,487.21 Q20.50,487.51 20.25,487.66 Q19.99,487.81 19.73,487.96 Q19.47,488.11 19.07,488.26 L19.07,487.42 Q19.80,487.07 20.08,486.83 Q20.35,486.58 20.63,486.34 Q20.90,486.09 21.13,485.63 L21.69,485.63 Z"/>
<path class="one" d="M21.69,512.92 L20.82,512.92 L20.82,507.35 Q20.50,507.65 20.25,507.80 Q19.99,507.95 19.73,508.10 Q19.47,508.25 19.07,508.40 L19.07,507.56 Q19.80,507.21 20.08,506.97 Q20.35,506.72 20.63,506.48 Q20.90,506.23 21.13,505.77 L21.69,505.77 Z"/>
<path class="one" d="M22.43,533.06 L21.55,533.06 L21.55,527.49 Q21.24,527.79 20.98,527.94 Q20.72,528.09 20.47,528.24 Q20.21,528.39 19.81,528.54 L19.81,527.70 Q20.54,527.35 20.81,527.11 Q21.09,526.86 21.36,526.62 Q21.64,526.37 21.87,525.91 L22.43,525.91 Z"/>
<path class="one" d="M27.23,533.06 L26.35,533.06 L26.35,527.49 Q26.04,527.79 25.78,527.94 Q25.52,528.09 25.26,528.24 Q25.01,528.39 24.60,528.54 L24.60,527.70 Q25.34,527.35 25.61,527.11 Q25.88,526.86 26.16,526.62 Q26.43,526.37 26.66,525.91 L27.23,525.91 Z"/>
<path class="one" d="M21.69,553.20 L20.82,553.20 L20.82,547.63 Q20.50,547.93 20.25,548.08 Q19.99,548.23 19.73,548.38 Q19.47,548.53 19.07,548.68 L19.07,547.84 Q19.80,547.49 20.08,547.25 Q20.35,547.00 20.63,546.76 Q20.90,546.51 21.13,546.05 L21.69,546.05 Z"/>
<path class="one" d="M101.87,565.40 L100.99,565.40 L100.99,559.83 Q100.68,560.13 100.42,560.28 Q100.16,560.43 99.90,560.58 Q99.65,560.73 99.24,560.88 L99.24,560.04 Q99.98,559.69 100.25,559.45 Q100.53,559.20 100.80,558.96 Q101.07,558.71 101.30,558.25 L101.87,558.25 Z"/>
<path class="one" d="M131.60,565.40 L130.72,565.40 L130.72,559.83 Q130.41,560.13 130.15,560.28 Q129.89,560.43 129.63,560.58 Q129.38,560.73 128.97,560.88 L128.97,560.04 Q129.71,559.69 129.98,559.45 Q130.26,559.20 130.53,558.96 Q130.80,558.71 131.03,558.25 L131.60,558.25 Z"/>
<path class="one" d="M81.94,321.85 L81.06,321.85 L81.06,316.28 Q80.74,316.58 80.49,316.73 Q80.23,316.88 79.97,317.03 Q79.71,317.18 79.31,317.33 L79.31,316.49 Q80.05,316.14 80.32,315.90 Q80.59,315.65 80.87,315.41 Q81.14,315.16 81.37,314.70 L81.94,314.70 Z"/>
<path class="one" d="M198.93,331.64 L198.05,331.64 L198.05,326.07 Q197.74,326.37 197.48,326.52 Q197.22,326.67 196.96,326.82 Q196.71,326.97 196.30,327.12 L196.30,326.28 Q197.04,325.93 197.31,325.69 Q197.58,325.44 197.86,325.20 Q198.13,324.95 198.36,324.49 L198.93,324.49 Z"/>
<path class="one" d="M193.39,371.93 L192.52,371.93 L192.52,366.36 Q192.20,366.66 191.95,366.81 Q191.69,366.96 191.43,367.11 Q191.17,367.26 190.77,367.41 L190.77,366.57 Q191.50,366.22 191.78,365.98 Q192.05,365.73 192.33,365.49 Q192.60,365.24 192.83,364.78 L193.39,364.78 Z"/>
<path class="one" d="M193.39,392.07 L192.52,392.07 L192.52,386.50 Q192.20,386.80 191.95,386.95 Q191.69,387.10 191.43,387.25 Q191.17,387.40 190.77,387.55 L190.77,386.71 Q191.50,386.36 191.78,386.12 Q192.05,385.87 192.33,385.63 Q192.60,385.38 192.83,384.92 L193.39,384.92 Z"/>
<path class="one" d="M193.39,412.21 L192.52,412.21 L192.52,406.64 Q192.20,406.94 191.95,407.09 Q191.69,407.24 191.43,407.39 Q191.17,407.54 190.77,407.69 L190.77,406.85 Q191.50,406.50 191.78,406.26 Q192.05,406.01 192.33,405.77 Q192.60,405.52 192.83,405.06 L193.39,405.06 Z"/>
<path class="one" d="M193.39,432.35 L192.52,432.35 L192.52,426.78 Q192.20,427.08 191.95,427.23 Q191.69,427.38 191.43,427.53 Q191.17,427.68 190.77,427.83 L190.77,426.99 Q191.50,426.64 191.78,426.40 Q192.05,426.15 192.33,425.91 Q192.60,425.66 192.83,425.20 L193.39,425.20 Z"/>
<path class="one" d="M193.39,452.49 L192.52,452.49 L192.52,446.92 Q192.20,447.22 191.95,447.37 Q191.69,447.52 191.43,447.67 Q191.17,447.82 190.77,447.97 L190.77,447.13 Q191.50,446.78 191.78,446.54 Q192.05,446.29 192.33,446.05 Q192.60,445.80 192.83,445.34 L193.39,445.34 Z"/>
<path class="one" d="M193.39,472.63 L192.52,472.63 L192.52,467.06 Q192.20,467.36 191.95,467.51 Q191.69,467.66 191.43,467.81 Q191.17,467.96 190.77,468.11 L190.77,467.27 Q191.50,466.92 191.78,466.68 Q192.05,466.43 192.33,466.19 Q192.60,465.94 192.83,465.48 L193.39,465.48 Z"/>
<path class="one" d="M193.39,492.78 L192.52,492.78 L192.52,487.21 Q192.20,487.51 191.95,487.66 Q191.69,487.81 191.43,487.96 Q191.17,488.11 190.77,488.26 L190.77,487.42 Q191.50,487.07 191.78,486.83 Q192.05,486.58 192.33,486.34 Q192.60,486.09 192.83,485.63 L193.39,485.63 Z"/>
<path class="one" d="M193.39,512.92 L192.52,512.92 L192.52,507.35 Q192.20,507.65 191.95,507.80 Q191.69,507.95 191.43,508.10 Q191.17,508.25 190.77,508.40 L190.77,507.56 Q191.50,507.21 191.78,506.97 Q192.05,506.72 192.33,506.48 Q192.60,506.23 192.83,505.77 L193.39,505.77 Z"/>
<path class="one" d="M194.13,533.06 L193.25,533.06 L193.25,527.49 Q192.94,527.79 192.68,527.94 Q192.42,528.09 192.17,528.24 Q191.91,528.39 191.51,528.54 L191.51,527.70 Q192.24,527.35 192.51,527.11 Q192.79,526.86 193.06,526.62 Q193.34,526.37 193.57,525.91 L194.13,525.91 Z"/>
<path class="one" d="M198.93,533.06 L198.05,533.06 L198.05,527.49 Q197.74,527.79 197.48,527.94 Q197.22,528.09 196.96,528.24 Q196.71,528.39 196.30,528.54 L196.30,527.70 Q197.04,527.35 197.31,527.11 Q197.58,526.86 197.86,526.62 Q198.13,526.37 198.36,525.91 L198.93,525.91 Z"/>
<path class="one" d="M193.39,553.20 L192.52,553.20 L192.52,547.63 Q192.20,547.93 191.95,548.08 Q191.69,548.23 191.43,548.38 Q191.17,548.53 190.77,548.68 L190.77,547.84 Q191.50,547.49 191.78,547.25 Q192.05,547.00 192.33,546.76 Q192.60,546.51 192.83,546.05 L193.39,546.05 Z"/>
<path class="one" d="M274.17,565.40 L273.29,565.40 L273.29,559.83 Q272.98,560.13 272.72,560.28 Q272.46,560.43 272.20,560.58 Q271.95,560.73 271.54,560.88 L271.54,560.04 Q272.28,559.69 272.55,559.45 Q272.83,559.20 273.10,558.96 Q273.37,558.71 273.60,558.25 L274.17,558.25 Z"/>
<path class="one" d="M303.94,565.40 L303.06,565.40 L303.06,559.83 Q302.75,560.13 302.49,560.28 Q302.23,560.43 301.97,560.58 Q301.72,560.73 301.31,560.88 L301.31,560.04 Q302.05,559.69 302.32,559.45 Q302.60,559.20 302.87,558.96 Q303.14,558.71 303.37,558.25 L303.94,558.25 Z"/>
<path class="one" d="M246.30,321.85 L245.43,321.85 L245.43,316.28 Q245.11,316.58 244.86,316.73 Q244.60,316.88 244.34,317.03 Q244.08,317.18 243.68,317.33 L243.68,316.49 Q244.41,316.14 244.69,315.90 Q244.96,315.65 245.24,315.41 Q245.51,315.16 245.74,314.70 L246.30,314.70 Z"/>
<path class="one" d="M378.03,331.64 L377.15,331.64 L377.15,326.07 Q376.84,326.37 376.58,326.52 Q376.32,326.67 376.06,326.82 Q375.81,326.97 375.40,327.12 L375.40,326.28 Q376.14,325.93 376.41,325.69 Q376.68,325.44 376.96,325.20 Q377.23,324.95 377.46,324.49 L378.03,324.49 Z"/>
<path class="one" d="M372.49,371.93 L371.62,371.93 L371.62,366.36 Q371.30,366.66 371.05,366.81 Q370.79,366.96 370.53,367.11 Q370.27,367.26 369.87,367.41 L369.87,366.57 Q370.60,366.22 370.88,365.98 Q371.15,365.73 371.43,365.49 Q371.70,365.24 371.93,364.78 L372.49,364.78 Z"/>
<path class="one" d="M372.49,392.07 L371.62,392.07 L371.62,386.50 Q371.30,386.80 371.05,386.95 Q370.79,387.10 370.53,387.25 Q370.27,387.40 369.87,387.55 L369.87,386.71 Q370.60,386.36 370.88,386.12 Q371.15,385.87 371.43,385.63 Q371.70,385.38 371.93,384.92 L372.49,384.92 Z"/>
<path class="one" d="M372.49,412.21 L371.62,412.21 L371.62,406.64 Q371.30,406.94 371.05,407.09 Q370.79,407.24 370.53,407.39 Q370.27,407.54 369.87,407.69 L369.87,406.85 Q370.60,406.50 370.88,406.26 Q371.15,406.01 371.43,405.77 Q371.70,405.52 371.93,405.06 L372.49,405.06 Z"/>
<path class="one" d="M372.49,432.35 L371.62,432.35 L371.62,426.78 Q371.30,427.08 371.05,427.23 Q370.79,427.38 370.53,427.53 Q370.27,427.68 369.87,427.83 L369.87,426.99 Q370.60,426.64 370.88,426.40 Q371.15,426.15 371.43,425.91 Q371.70,425.66 371.93,425.20 L372.49,425.20 Z"/>
<path class="one" d="M372.49,452.49 L371.62,452.49 L371.62,446.92 Q371.30,447.22 371.05,447.37 Q370.79,447.52 370.53,447.67 Q370.27,447.82 369.87,447.97 L369.87,447.13 Q370.60,446.78 370.88,446.54 Q371.15,446.29 371.43,446.05 Q371.70,445.80 371.93,445.34 L372.49,445.34 Z"/>
<path class="one" d="M372.49,472.63 L371.62,472.63 L371.62,467.06 Q371.30,467.36 371.05,467.51 Q370.79,467.66 370.53,467.81 Q370.27,467.96 369.87,468.11 L369.87,467.27 Q370.60,466.92 370.88,466.68 Q371.15,466.43 371.43,466.19 Q371.70,465.94 371.93,465.48 L372.49,465.48 Z"/>
<path class="one" d="M372.49,492.78 L371.62,492.78 L371.62,487.21 Q371.30,487.51 371.05,487.66 Q370.79,487.81 370.53,487.96 Q370.27,488.11 369.87,488.26 L369.87,487.42 Q370.60,487.07 370.88,486.83 Q371.15,486.58 371.43,486.34 Q371.70,486.09 371.93,485.63 L372.49,485.63 Z"/>
<path class="one" d="M372.49,512.92 L371.62,512.92 L371.62,507.35 Q371.30,507.65 371.05,507.80 Q370.79,507.95 370.53,508.10 Q370.27,508.25 369.87,508.40 L369.87,507.56 Q370.60,507.21 370.88,506.97 Q371.15,506.72 371.43,506.48 Q371.70,506.23 371.93,505.77 L372.49,505.77 Z"/>
<path class="one" d="M373.23,533.06 L372.35,533.06 L372.35,527.49 Q372.04,527.79 371.78,527.94 Q371.52,528.09 371.27,528.24 Q371.01,528.39 370.61,528.54 L370.61,527.70 Q371.34,527.35 371.61,527.11 Q371.89,526.86 372.16,526.62 Q372.44,526.37 372.67,525.91 L373.23,525.91 Z"/>
<path class="one" d="M378.03,533.06 L377.15,533.06 L377.15,527.49 Q376.84,527.79 376.58,527.94 Q376.32,528.09 376.06,528.24 Q375.81,528.39 375.40,528.54 L375.40,527.70 Q376.14,527.35 376.41,527.11 Q376.68,526.86 376.96,526.62 Q377.23,526.37 377.46,525.91 L378.03,525.91 Z"/>
<path class="one" d="M372.49,553.20 L371.62,553.20 L371.62,547.63 Q371.30,547.93 371.05,548.08 Q370.79,548.23 370.53,548.38 Q370.27,548.53 369.87,548.68 L369.87,547.84 Q370.60,547.49 370.88,547.25 Q371.15,547.00 371.43,546.76 Q371.70,546.51 371.93,546.05 L372.49,546.05 Z"/>
<path class="one" d="M453.22,565.40 L452.34,565.40 L452.34,559.83 Q452.03,560.13 451.77,560.28 Q451.51,560.43 451.25,560.58 Q451.00,560.73 450.59,560.88 L450.59,560.04 Q451.33,559.69 451.60,559.45 Q451.88,559.20 452.15,558.96 Q452.42,558.71 452.65,558.25 L453.22,558.25 Z"/>
<path class="one" d="M482.92,565.40 L482.04,565.40 L482.04,559.83 Q481.73,560.13 481.47,560.28 Q481.21,560.43 480.95,560.58 Q480.70,560.73 480.29,560.88 L480.29,560.04 Q481.03,559.69 481.30,559.45 Q481.58,559.20 481.85,558.96 Q482.12,558.71 482.35,558.25 L482.92,558.25 Z"/>
</svg>
</body></html>
